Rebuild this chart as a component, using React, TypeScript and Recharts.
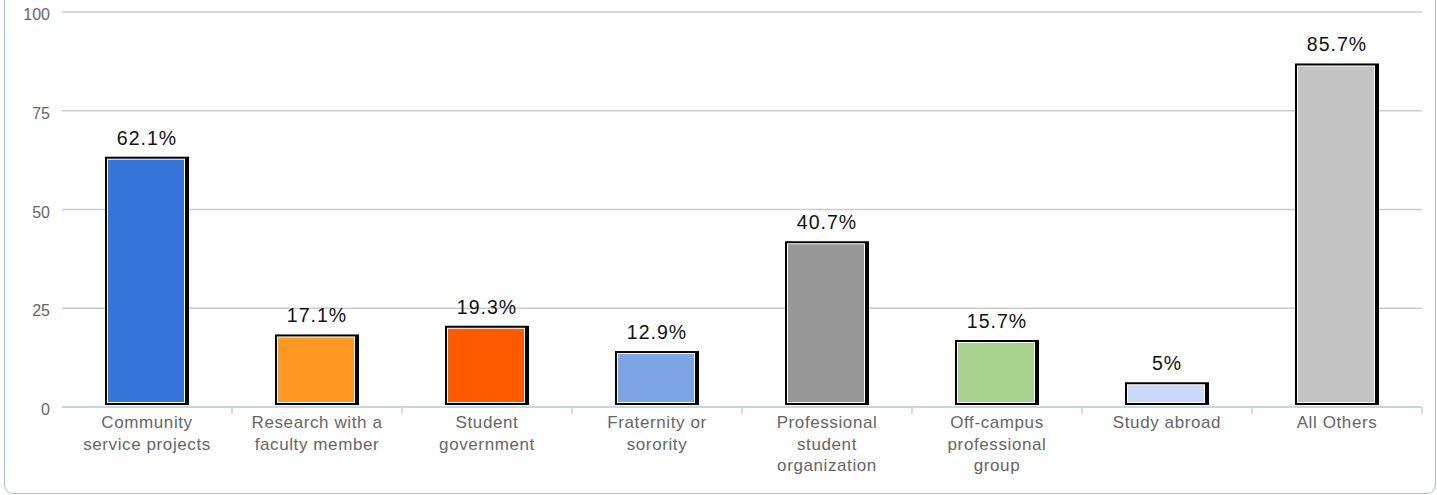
import React from "react";
import { BarChart, Bar, XAxis, YAxis, CartesianGrid, LabelList, Cell } from "recharts";

const categories = [
  "Community service projects",
  "Research with a faculty member",
  "Student government",
  "Fraternity or sorority",
  "Professional student organization",
  "Off-campus professional group",
  "Study abroad",
  "All Others",
];
const values = [62.1, 17.1, 19.3, 12.9, 40.7, 15.7, 5, 85.7];
const colors = ["#3674d9", "#ff9922", "#ff5a00", "#7da4e5", "#999999", "#a8d18d", "#c9daf8", "#c3c3c4"];
const yTicks = [0, 25, 50, 75, 100];

const data = categories.map((name, i) => ({ name, value: values[i] }));

const W = 1437;
const H = 495;
const yAxisW = 62;
const rightM = 15;
const band = (W - yAxisW - rightM) / categories.length;
const font = '"Liberation Sans", Arial, sans-serif';
const axisColor = "#c3d2e6";

// greedy wrap on ~16 chars
function wrap(s: string, max = 16) {
  const words = s.split(" ");
  const lines: string[] = [];
  let cur = "";
  for (const w of words) {
    if (!cur) cur = w;
    else if ((cur + " " + w).length <= max) cur += " " + w;
    else { lines.push(cur); cur = w; }
  }
  if (cur) lines.push(cur);
  return lines;
}

const BarShape = (props: any) => {
  const { x, y, width, height, fill } = props;
  const top = y - 5;
  const bottom = y + height - 2;
  const h = bottom - top;
  return (
    <g>
      <rect x={x} y={top} width={width} height={h} fill="#000" />
      <rect x={x + 2} y={top + 2} width={width - 6} height={h - 4} fill="#fff" />
      <rect x={x + 3} y={top + 3} width={width - 8} height={h - 6} fill={fill} />
    </g>
  );
};

const XTick = (props: any) => {
  const { x, y, payload } = props;
  const lines = wrap(payload.value);
  return (
    <g>
      <line x1={x + band / 2} x2={x + band / 2} y1={y} y2={y + 7} stroke={axisColor} strokeWidth={1.5} />
      <text x={x} y={y} textAnchor="middle" fill="#666" fontSize={17} letterSpacing={0.6} fontFamily={font}>
        {lines.map((l, i) => (
          <tspan key={i} x={x} dy={i === 0 ? 21 : 21.5}>{l}</tspan>
        ))}
      </text>
    </g>
  );
};

const YTick = (props: any) => {
  const { y, payload } = props;
  return (
    <text x={50} y={y + 8} textAnchor="end" fill="#666" fontSize={16} fontFamily={font}>
      {payload.value}
    </text>
  );
};

const ValueLabel = (props: any) => {
  const { x, y, width, value } = props;
  return (
    <text x={x + width / 2} y={y - 17} textAnchor="middle" fill="#111" fontSize={19.5} letterSpacing={1} fontFamily={font}>
      {value}%
    </text>
  );
};

export default function App() {
  return (
    <div style={{ position: "absolute", left: 0, top: 0, width: W, height: H, overflow: "hidden", background: "#fff" }}>
      <div
        style={{
          position: "absolute",
          left: 4,
          top: -20,
          width: 1430,
          height: 512,
          border: "1.5px solid #a9c0e0",
          borderRadius: 9,
        }}
      />
      <div style={{ position: "absolute", left: 0, top: 0 }}>
        <BarChart width={W} height={H} data={data} margin={{ top: 12, right: rightM, bottom: 0, left: 0 }} barSize={84}>
          <CartesianGrid vertical={false} stroke="#cccccc" strokeWidth={1.5} />
          <YAxis
            width={yAxisW}
            domain={[0, 100]}
            ticks={yTicks}
            axisLine={false}
            tickLine={false}
            tickSize={0}
            tick={<YTick />}
            interval={0}
          />
          <XAxis
            dataKey="name"
            height={88}
            interval={0}
            axisLine={{ stroke: axisColor, strokeWidth: 1.5 }}
            tickLine={false}
            tickSize={0}
            tickMargin={0}
            tick={<XTick />}
          />
          <Bar dataKey="value" shape={<BarShape />} isAnimationActive={false}>
            {data.map((d, i) => (
              <Cell key={d.name} fill={colors[i]} />
            ))}
            <LabelList dataKey="value" content={<ValueLabel />} />
          </Bar>
        </BarChart>
      </div>
    </div>
  );
}
